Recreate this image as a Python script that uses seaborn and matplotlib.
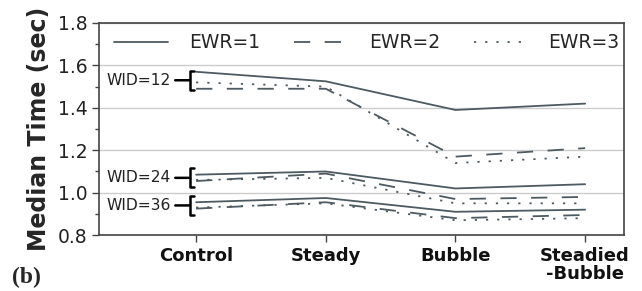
import pandas as pd
import matplotlib.pyplot as plt
import seaborn as sns
from matplotlib.ticker import MultipleLocator

fases = ["Control", "Steady", "Bubble", "Steadied\n-Bubble"]
wids = ["WID=12", "WID=24", "WID=36"]
ewrs = ["EWR=1", "EWR=2", "EWR=3"]

# valores (por WID, por EWR)
wid12_ewr1 = [1.57, 1.525, 1.39, 1.42]
wid12_ewr2 = [1.49, 1.49, 1.17, 1.21]
wid12_ewr3 = [1.52, 1.50, 1.14, 1.17]
wid24_ewr1 = [1.085, 1.10, 1.02, 1.04]
wid24_ewr2 = [1.055, 1.09, 0.97, 0.98]
wid24_ewr3 = [1.06, 1.07, 0.95, 0.95]
wid36_ewr1 = [0.955, 0.975, 0.91, 0.92]
wid36_ewr2 = [0.925, 0.955, 0.88, 0.895]
wid36_ewr3 = [0.93, 0.95, 0.87, 0.88]

series = {
    ("WID=12", "EWR=1"): wid12_ewr1, ("WID=12", "EWR=2"): wid12_ewr2, ("WID=12", "EWR=3"): wid12_ewr3,
    ("WID=24", "EWR=1"): wid24_ewr1, ("WID=24", "EWR=2"): wid24_ewr2, ("WID=24", "EWR=3"): wid24_ewr3,
    ("WID=36", "EWR=1"): wid36_ewr1, ("WID=36", "EWR=2"): wid36_ewr2, ("WID=36", "EWR=3"): wid36_ewr3,
}

linhas = []
for (w, e), vals in series.items():
    for f, v in zip(fases, vals):
        linhas.append({"fase": f, "tempo": v, "WID": w, "EWR": e})
df = pd.DataFrame(linhas)

cor = "#4d5a61"
tracos = {"EWR=1": "", "EWR=2": (9, 8), "EWR=3": (1.2, 5)}
sns.set_style("white")
plt.rcParams['font.family'] = ['DejaVu Sans']

fig, ax = plt.subplots(figsize=(6.42, 2.91), dpi=100)
fig.subplots_adjust(left=0.154, right=0.972, top=0.921, bottom=0.192)

sns.lineplot(data=df, x="fase", y="tempo", style="EWR", units="WID", estimator=None,
             dashes=tracos, color=cor, linewidth=1.3, ax=ax, legend=False, sort=False)

ax.set_xlim(-0.75, 3.3)
ax.set_ylim(0.8, 1.8)
ax.yaxis.set_major_locator(MultipleLocator(0.2))
ax.yaxis.set_minor_locator(MultipleLocator(0.1))
ax.grid(axis="y", which="major", color="#cccccc", linewidth=1)
ax.set_axisbelow(True)

for s in ax.spines.values():
    s.set_color("#444444")
    s.set_linewidth(1.2)

ax.tick_params(axis="y", which="major", labelsize=13.5, length=5, width=1, color="#444444",
               left=True, direction="out", labelcolor="#222222", pad=3)
ax.tick_params(axis="y", which="minor", length=3, width=1, color="#444444", left=True)
ax.tick_params(axis="x", labelsize=13, length=5, width=1, color="#444444", bottom=True,
               labelcolor="#111111")
for t in ax.get_xticklabels():
    t.set_fontweight("bold")
    t.set_linespacing(1.0)

ax.set_xlabel("")
ax.set_ylabel("Median Time (sec)", fontsize=17, fontweight="bold", labelpad=5)

# anotações WID com colchete
for w in wids:
    vals = [series[(w, e)][0] for e in ewrs]
    meio = (max(vals) + min(vals)) / 2
    ax.annotate(w, xy=(-0.05, meio), xytext=(-0.445, meio), textcoords="data",
                fontsize=11.2, va="center", ha="center", color="#222222",
                arrowprops=dict(arrowstyle="-[, widthB=0.62, lengthB=0.3", color="black", lw=1.8,
                                shrinkA=1, shrinkB=0))

handles = []
for e in ewrs:
    h = plt.Line2D([], [], color=cor, lw=1.3)
    if tracos[e]:
        h.set_dashes(tracos[e])
    handles.append(h)
ax.legend(handles, ewrs, loc="upper center", ncol=3, frameon=False, fontsize=13.5,
          handlelength=2.9, handletextpad=1.1, columnspacing=1.8, bbox_to_anchor=(0.51, 1.03))

fig.text(0.018, 0.045, "(b)", fontsize=17, fontweight="bold", family="Liberation Serif",
         va="center", ha="left")

plt.savefig("out.png", dpi=100)
